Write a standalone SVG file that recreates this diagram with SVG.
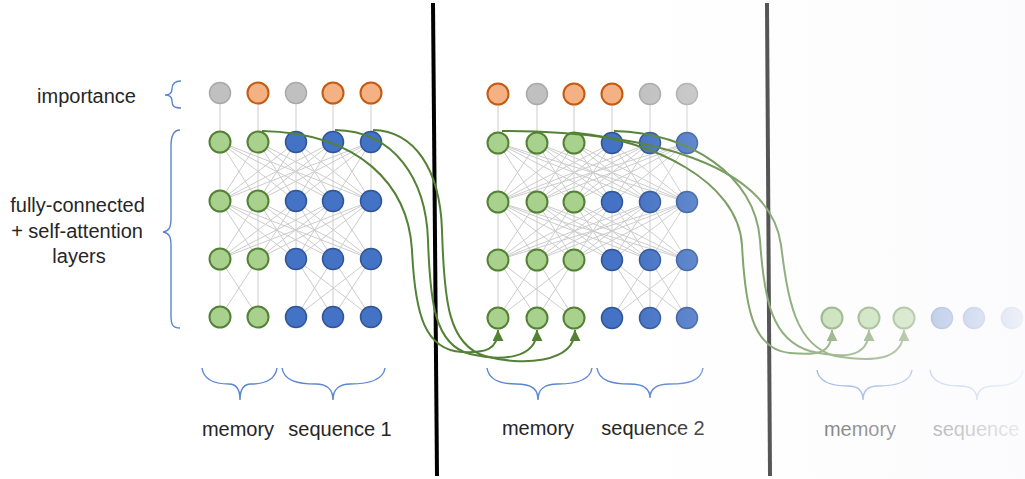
<svg xmlns="http://www.w3.org/2000/svg" width="1025" height="479" viewBox="0 0 1025 479">
  <style>
    .lbl { font-family: "Liberation Sans", Arial, sans-serif; font-size: 20px; fill: #262626; text-anchor: middle; }
    .mesh { fill: none; stroke: #cccccc; stroke-width: 1; }
    .brace { fill: none; stroke: #5b86cf; stroke-width: 1.4; }
    .flow { fill: none; stroke: #548235; stroke-width: 2; marker-end: url(#arrow); }
    .g { fill: #a9d18e; stroke: #548235; stroke-width: 2; }
    .b { fill: #4472c4; stroke: #2f5597; stroke-width: 1.5; }
    .o { fill: #f4b183; stroke: #c55a11; stroke-width: 2; }
    .y { fill: #c0c0c0; stroke: #a9a9a9; stroke-width: 1.5; }
    .sep { stroke: #000000; stroke-width: 4; }
  </style>
  <defs>
    <marker id="arrow" viewBox="0 0 10 10" refX="10" refY="5" markerWidth="11" markerHeight="11" markerUnits="userSpaceOnUse" orient="auto">
      <path d="M0 0L10 5L0 10Z" fill="#548235"/>
    </marker>
    <linearGradient id="fade" gradientUnits="userSpaceOnUse" x1="630" y1="0" x2="1025" y2="0">
      <stop offset="0" stop-color="#fbfbfd" stop-opacity="0"/>
      <stop offset="0.35" stop-color="#fbfbfd" stop-opacity="0.34"/>
      <stop offset="0.51" stop-color="#fbfbfd" stop-opacity="0.46"/>
      <stop offset="0.70" stop-color="#fbfbfd" stop-opacity="0.6"/>
      <stop offset="0.79" stop-color="#fbfbfd" stop-opacity="0.72"/>
      <stop offset="0.97" stop-color="#fbfbfd" stop-opacity="0.9"/>
      <stop offset="1" stop-color="#fbfbfd" stop-opacity="0.93"/>
    </linearGradient>
  </defs>

  <rect width="1025" height="479" fill="#ffffff"/>

  <!-- segment separators -->
  <line class="sep" x1="433" y1="3" x2="437" y2="476"/>
  <line class="sep" x1="767" y1="3" x2="770" y2="476"/>

  <!-- labels on the left -->
  <text class="lbl" x="86.5" y="103">importance</text>
  <text class="lbl" x="77.5" y="212">fully-connected</text>
  <text class="lbl" x="77" y="238">+ self-attention</text>
  <text class="lbl" x="79" y="263">layers</text>
  <path class="brace" d="M181 81C174 81 172 84 172 89C172 93 170 95 165 95C170 95 172 97 172 101C172 106 174 108 181 108"/>
  <path class="brace" d="M180 130C173 130 171 136 171 146L171 218C171 228 169 231 163 232C169 233 171 236 171 246L171 316C171 325 173 328 180 328"/>

  <!-- braces and labels under each segment -->
  <path class="brace" d="M202 368C204 381 216 384 229 384C236 384 240 389 240 400C240 389 244 384 251 384C264 384 275 381 277 368"/>
  <path class="brace" d="M282 368C284 381 298 384 316 384C326 384 333 389 333 400C333 389 340 384 350 384C368 384 383 381 385 368"/>
  <path class="brace" d="M487 368C489 381 502 384 516 384C532 384 538 389 538 400C538 389 544 384 558 384C575 384 590 381 592 368"/>
  <path class="brace" d="M597 368C599 381 612 384 630 384C643 384 650 389 650 398C650 389 657 384 670 384C688 384 701 381 703 368"/>
  <path class="brace" d="M817 370C819 383 833 386 848 386C858 386 863 390 863 400C863 390 868 386 878 386C893 386 910 383 912 370"/>
  <path class="brace" d="M930 370C932 383 946 386 960 386C970 386 977 390 977 400C977 390 984 386 994 386C1008 386 1021 383 1023 370"/>
  <text class="lbl" x="238" y="436">memory</text>
  <text class="lbl" x="340" y="436">sequence 1</text>
  <text class="lbl" x="538" y="435">memory</text>
  <text class="lbl" x="653" y="435">sequence 2</text>
  <text class="lbl" x="860" y="436">memory</text>
  <text class="lbl" x="976" y="436">sequence</text>

  <!-- layer-to-layer links -->
  <g id="links" class="mesh">
    <!-- segment 1: importance to first layer -->
    <path d="M220 93L220 142M258 93L258 142M296 93L296 142M333 93L333 142M371 93L371 142"/>
    <!-- segment 1: layer 1 to layer 2, fully connected -->
    <path d="M220 142L220 201M220 142L258 201M220 142L296 201M220 142L333 201M220 142L371 201M258 142L220 201M258 142L258 201M258 142L296 201M258 142L333 201M258 142L371 201M296 142L220 201M296 142L258 201M296 142L296 201M296 142L333 201M296 142L371 201M333 142L220 201M333 142L258 201M333 142L296 201M333 142L333 201M333 142L371 201M371 142L220 201M371 142L258 201M371 142L296 201M371 142L333 201M371 142L371 201"/>
    <!-- segment 1: layer 2 to layer 3, fully connected -->
    <path d="M220 201L220 259M220 201L258 259M220 201L296 259M220 201L333 259M220 201L371 259M258 201L220 259M258 201L258 259M258 201L296 259M258 201L333 259M258 201L371 259M296 201L220 259M296 201L258 259M296 201L296 259M296 201L333 259M296 201L371 259M333 201L220 259M333 201L258 259M333 201L296 259M333 201L333 259M333 201L371 259M371 201L220 259M371 201L258 259M371 201L296 259M371 201L333 259M371 201L371 259"/>
    <!-- segment 1: layer 3 to layer 4, memory and sequence kept apart -->
    <path d="M220 259L220 317M220 259L258 317M258 259L220 317M258 259L258 317M296 259L296 317M296 259L333 317M296 259L371 317M333 259L296 317M333 259L333 317M333 259L371 317M371 259L296 317M371 259L333 317M371 259L371 317"/>

    <!-- segment 2: importance to first layer -->
    <path d="M498 94L498 143M537 94L537 143M574 94L574 143M612 94L612 143M650 94L650 143M687 94L687 143"/>
    <!-- segment 2: layer 1 to layer 2 -->
    <path d="M498 143L498 202M498 143L537 202M498 143L574 202M498 143L612 202M498 143L650 202M498 143L687 202M537 143L498 202M537 143L537 202M537 143L574 202M537 143L612 202M537 143L650 202M537 143L687 202M574 143L498 202M574 143L537 202M574 143L574 202M574 143L612 202M574 143L650 202M574 143L687 202M612 143L498 202M612 143L537 202M612 143L574 202M612 143L612 202M612 143L650 202M612 143L687 202M650 143L498 202M650 143L537 202M650 143L574 202M650 143L612 202M650 143L650 202M650 143L687 202M687 143L498 202M687 143L537 202M687 143L574 202M687 143L612 202M687 143L650 202M687 143L687 202"/>
    <!-- segment 2: layer 2 to layer 3 -->
    <path d="M498 202L498 260M498 202L537 260M498 202L574 260M498 202L612 260M498 202L650 260M498 202L687 260M537 202L498 260M537 202L537 260M537 202L574 260M537 202L612 260M537 202L650 260M537 202L687 260M574 202L498 260M574 202L537 260M574 202L574 260M574 202L612 260M574 202L650 260M574 202L687 260M612 202L498 260M612 202L537 260M612 202L574 260M612 202L612 260M612 202L650 260M612 202L687 260M650 202L498 260M650 202L537 260M650 202L574 260M650 202L612 260M650 202L650 260M650 202L687 260M687 202L498 260M687 202L537 260M687 202L574 260M687 202L612 260M687 202L650 260M687 202L687 260"/>
    <!-- segment 2: layer 3 to layer 4 -->
    <path d="M498 260L498 318M498 260L537 318M498 260L574 318M537 260L498 318M537 260L537 318M537 260L574 318M574 260L498 318M574 260L537 318M574 260L574 318M612 260L612 318M612 260L650 318M612 260L687 318M650 260L612 318M650 260L650 318M650 260L687 318M687 260L612 318M687 260L650 318M687 260L687 318"/>
  </g>

  <!-- segment 1 nodes -->
  <g id="s1-imp-1"><circle class="y" cx="220" cy="93" r="10.5"/></g>
  <g id="s1-imp-2"><circle class="o" cx="258" cy="93" r="10.5"/></g>
  <g id="s1-imp-3"><circle class="y" cx="296" cy="93" r="10.5"/></g>
  <g id="s1-imp-4"><circle class="o" cx="333" cy="93" r="10.5"/></g>
  <g id="s1-imp-5"><circle class="o" cx="371" cy="93" r="10.5"/></g>

  <g id="s1-l1-1"><circle class="g" cx="220" cy="142" r="10.5"/></g>
  <g id="s1-l1-2"><circle class="g" cx="258" cy="142" r="10.5"/></g>
  <g id="s1-l1-3"><circle class="b" cx="296" cy="142" r="10.5"/></g>
  <g id="s1-l1-4"><circle class="b" cx="333" cy="142" r="10.5"/></g>
  <g id="s1-l1-5"><circle class="b" cx="371" cy="142" r="10.5"/></g>

  <g id="s1-l2-1"><circle class="g" cx="220" cy="201" r="10.5"/></g>
  <g id="s1-l2-2"><circle class="g" cx="258" cy="201" r="10.5"/></g>
  <g id="s1-l2-3"><circle class="b" cx="296" cy="201" r="10.5"/></g>
  <g id="s1-l2-4"><circle class="b" cx="333" cy="201" r="10.5"/></g>
  <g id="s1-l2-5"><circle class="b" cx="371" cy="201" r="10.5"/></g>

  <g id="s1-l3-1"><circle class="g" cx="220" cy="259" r="10.5"/></g>
  <g id="s1-l3-2"><circle class="g" cx="258" cy="259" r="10.5"/></g>
  <g id="s1-l3-3"><circle class="b" cx="296" cy="259" r="10.5"/></g>
  <g id="s1-l3-4"><circle class="b" cx="333" cy="259" r="10.5"/></g>
  <g id="s1-l3-5"><circle class="b" cx="371" cy="259" r="10.5"/></g>

  <g id="s1-l4-1"><circle class="g" cx="220" cy="317" r="10.5"/></g>
  <g id="s1-l4-2"><circle class="g" cx="258" cy="317" r="10.5"/></g>
  <g id="s1-l4-3"><circle class="b" cx="296" cy="317" r="10.5"/></g>
  <g id="s1-l4-4"><circle class="b" cx="333" cy="317" r="10.5"/></g>
  <g id="s1-l4-5"><circle class="b" cx="371" cy="317" r="10.5"/></g>

  <!-- segment 2 nodes -->
  <g id="s2-imp-1"><circle class="o" cx="498" cy="94" r="10.5"/></g>
  <g id="s2-imp-2"><circle class="y" cx="537" cy="94" r="10.5"/></g>
  <g id="s2-imp-3"><circle class="o" cx="574" cy="94" r="10.5"/></g>
  <g id="s2-imp-4"><circle class="o" cx="612" cy="94" r="10.5"/></g>
  <g id="s2-imp-5"><circle class="y" cx="650" cy="94" r="10.5"/></g>
  <g id="s2-imp-6"><circle class="y" cx="687" cy="94" r="10.5"/></g>

  <g id="s2-l1-1"><circle class="g" cx="498" cy="143" r="10.5"/></g>
  <g id="s2-l1-2"><circle class="g" cx="537" cy="143" r="10.5"/></g>
  <g id="s2-l1-3"><circle class="g" cx="574" cy="143" r="10.5"/></g>
  <g id="s2-l1-4"><circle class="b" cx="612" cy="143" r="10.5"/></g>
  <g id="s2-l1-5"><circle class="b" cx="650" cy="143" r="10.5"/></g>
  <g id="s2-l1-6"><circle class="b" cx="687" cy="143" r="10.5"/></g>

  <g id="s2-l2-1"><circle class="g" cx="498" cy="202" r="10.5"/></g>
  <g id="s2-l2-2"><circle class="g" cx="537" cy="202" r="10.5"/></g>
  <g id="s2-l2-3"><circle class="g" cx="574" cy="202" r="10.5"/></g>
  <g id="s2-l2-4"><circle class="b" cx="612" cy="202" r="10.5"/></g>
  <g id="s2-l2-5"><circle class="b" cx="650" cy="202" r="10.5"/></g>
  <g id="s2-l2-6"><circle class="b" cx="687" cy="202" r="10.5"/></g>

  <g id="s2-l3-1"><circle class="g" cx="498" cy="260" r="10.5"/></g>
  <g id="s2-l3-2"><circle class="g" cx="537" cy="260" r="10.5"/></g>
  <g id="s2-l3-3"><circle class="g" cx="574" cy="260" r="10.5"/></g>
  <g id="s2-l3-4"><circle class="b" cx="612" cy="260" r="10.5"/></g>
  <g id="s2-l3-5"><circle class="b" cx="650" cy="260" r="10.5"/></g>
  <g id="s2-l3-6"><circle class="b" cx="687" cy="260" r="10.5"/></g>

  <g id="s2-l4-1"><circle class="g" cx="498" cy="318" r="10.5"/></g>
  <g id="s2-l4-2"><circle class="g" cx="537" cy="318" r="10.5"/></g>
  <g id="s2-l4-3"><circle class="g" cx="574" cy="318" r="10.5"/></g>
  <g id="s2-l4-4"><circle class="b" cx="612" cy="318" r="10.5"/></g>
  <g id="s2-l4-5"><circle class="b" cx="650" cy="318" r="10.5"/></g>
  <g id="s2-l4-6"><circle class="b" cx="687" cy="318" r="10.5"/></g>

  <!-- segment 3 nodes (input layer only) -->
  <g id="s3-l4-1"><circle class="g" cx="832" cy="318" r="10.5"/></g>
  <g id="s3-l4-2"><circle class="g" cx="869" cy="318" r="10.5"/></g>
  <g id="s3-l4-3"><circle class="g" cx="904" cy="318" r="10.5"/></g>
  <g id="s3-l4-4"><circle class="b" cx="942" cy="318" r="10.5"/></g>
  <g id="s3-l4-5"><circle class="b" cx="974" cy="318" r="10.5"/></g>
  <g id="s3-l4-6"><circle class="b" cx="1012" cy="318" r="10.5"/></g>

  <!-- important tokens carried into the next segment's memory -->
  <g id="memory-transfer">
    <path class="flow" d="M262 131C360 133 408 185 412 250C415 315 425 350 462 352C485 353 498 350 498 330"/>
    <path class="flow" d="M335 130C395 131 426 180 428 240C430 300 434 345 470 354C500 361 537 360 537 330"/>
    <path class="flow" d="M373 130C415 131 440 170 442 230C444 300 448 345 485 356C520 366 575 364 575 330"/>
    <path class="flow" d="M577 133C650 140 738 180 742 245C745 305 752 350 790 353C815 355 832 356 832 330"/>
    <path class="flow" d="M614 131C690 133 755 175 760 240C764 300 772 340 810 351C840 358 869 360 869 330"/>
    <path class="flow" d="M502 131C650 131 770 165 781 245C788 300 795 345 835 356C870 362 904 362 904 330"/>
  </g>

  <!-- fade toward later segments -->
  <rect x="630" y="0" width="395" height="479" fill="url(#fade)"/>
</svg>
